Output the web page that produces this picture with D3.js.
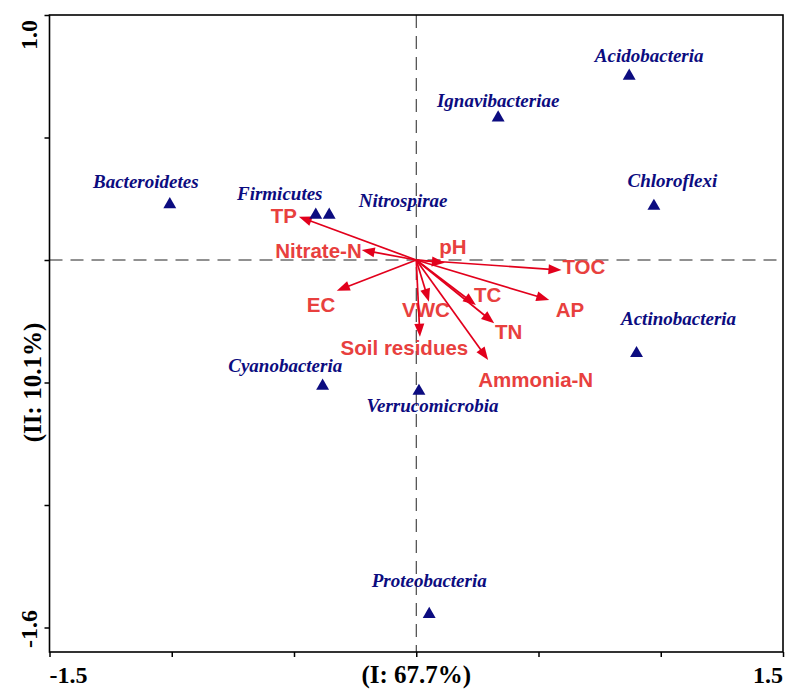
<!DOCTYPE html>
<html>
<head>
<meta charset="utf-8">
<script src="https://cdn.jsdelivr.net/npm/d3@7"></script>
<style>
  html, body { margin: 0; padding: 0; background: #fff; }
  svg { display: block; }
</style>
</head>
<body>
<svg id="chart" width="786" height="689"></svg>
<script>
// Axis ranges and tick values
const xDomain = [-1.5, 1.5];
const yDomain = [-1.6, 1.0];
const xTicks = [-1.5, -1.0, -0.5, 0, 0.5, 1.0, 1.5];
const yTicks = [-1.5, -1.0, -0.5, 0, 0.5, 1.0];
const xRangeLabels = ["-1.5", "1.5"];
const yRangeLabels = ["-1.6", "1.0"];
const xTitle = "(I: 67.7%)";
const yTitle = "(II: 10.1%)";

// Phyla (species scores)
const phyla = ["Acidobacteria", "Ignavibacteriae", "Chloroflexi", "Bacteroidetes", "Firmicutes",
  "Nitrospirae", "Actinobacteria", "Cyanobacteria", "Verrucomicrobia", "Proteobacteria"];
const phylaX = [0.871, 0.335, 0.972, -1.008, -0.411, -0.356, 0.901, -0.383, 0.011, 0.053];
const phylaY = [0.755, 0.585, 0.224, 0.231, 0.188, 0.188, -0.377, -0.510, -0.531, -1.442];

// Environmental variables (biplot arrows)
const envVars = ["TP", "Nitrate-N", "EC", "VWC", "Soil residues", "pH", "TOC", "TC", "AP", "TN", "Ammonia-N"];
const envX = [-0.480, -0.223, -0.325, 0.052, 0.015, 0.117, 0.594, 0.244, 0.544, 0.319, 0.294];
const envY = [0.177, 0.041, -0.125, -0.170, -0.313, -0.011, -0.041, -0.184, -0.163, -0.258, -0.408];

// Label placement (pixel offsets from the mark, text anchor)
const phylaLabelPlace = {
  "Acidobacteria": [20, -13, "middle"],
  "Ignavibacteriae": [0, -10, "middle"],
  "Chloroflexi": [18.5, -18.3, "middle"],
  "Bacteroidetes": [-24, -15, "middle"],
  "Firmicutes": [-36, -14, "middle"],
  "Nitrospirae": [74, -7, "middle"],
  "Actinobacteria": [42, -27, "middle"],
  "Cyanobacteria": [-37.4, -12.7, "middle"],
  "Verrucomicrobia": [13.5, 21.7, "middle"],
  "Proteobacteria": [0, -26.6, "middle"]
};
const envLabelPlace = {
  "TP": [-2, 6.6, "end"],
  "Nitrate-N": [0, 8.3, "end"],
  "EC": [-15.7, 21, "middle"],
  "VWC": [-3, 15, "middle"],
  "Soil residues": [-15.5, 18, "middle"],
  "pH": [8, -8.4, "middle"],
  "TOC": [1, 4.3, "start"],
  "TC": [-2, -3.3, "start"],
  "AP": [6.4, 17.3, "start"],
  "TN": [0.7, 16, "start"],
  "Ammonia-N": [-10, 26.7, "start"]
};

const navy = "#0c0c80";
const arrowRed = "#e2001c";
const labelRed = "#e8403e";
const serif = "'Liberation Serif', 'Times New Roman', serif";
const sans = "'Liberation Sans', Arial, sans-serif";

const svg = d3.select("#chart");
const plotLeft = 49.5, plotRight = 783, plotTop = 15, plotBottom = 652;

const x = d3.scaleLinear().domain(xDomain).range([plotLeft, plotRight]);
const y = d3.scaleLinear().domain(yDomain).range([plotBottom, plotTop]);

// Zero reference lines
svg.append("line")
  .attr("x1", x(0)).attr("x2", x(0)).attr("y1", plotTop).attr("y2", plotBottom)
  .attr("stroke", "#222").attr("stroke-width", 1).attr("stroke-dasharray", "13,8");
svg.append("line")
  .attr("x1", plotLeft).attr("x2", plotRight).attr("y1", y(0)).attr("y2", y(0))
  .attr("stroke", "#222").attr("stroke-width", 1).attr("stroke-dasharray", "13,8");

// Frame
svg.append("rect")
  .attr("x", plotLeft).attr("y", plotTop)
  .attr("width", plotRight - plotLeft).attr("height", plotBottom - plotTop)
  .attr("fill", "none").attr("stroke", "#000").attr("stroke-width", 1.6);

// Ticks
const xAxis = svg.append("g").attr("transform", `translate(0,${plotBottom})`)
  .call(d3.axisBottom(x).tickValues(xTicks).tickSize(5).tickFormat(""));
const yAxis = svg.append("g").attr("transform", `translate(${plotLeft},0)`)
  .call(d3.axisLeft(y).tickValues(yTicks).tickSize(5).tickFormat(""));
[xAxis, yAxis].forEach(g => {
  g.select(".domain").remove();
  g.selectAll(".tick line").attr("stroke", "#000").attr("stroke-width", 1.5);
});

// Axis range labels
svg.append("text").attr("x", plotLeft).attr("y", 683).attr("text-anchor", "start")
  .attr("font-family", serif).attr("font-weight", "bold").attr("font-size", 24)
  .text(xRangeLabels[0]);
svg.append("text").attr("x", plotRight).attr("y", 683).attr("text-anchor", "end")
  .attr("font-family", serif).attr("font-weight", "bold").attr("font-size", 24)
  .text(xRangeLabels[1]);
svg.append("text").attr("transform", `translate(37,${plotBottom - 4}) rotate(-90)`)
  .attr("text-anchor", "start")
  .attr("font-family", serif).attr("font-weight", "bold").attr("font-size", 24)
  .text(yRangeLabels[0]);
svg.append("text").attr("transform", `translate(37,${plotTop + 5}) rotate(-90)`)
  .attr("text-anchor", "end")
  .attr("font-family", serif).attr("font-weight", "bold").attr("font-size", 24)
  .text(yRangeLabels[1]);

// Axis titles
svg.append("text").attr("x", x(0)).attr("y", 683).attr("text-anchor", "middle")
  .attr("font-family", serif).attr("font-weight", "bold").attr("font-size", 25)
  .text(xTitle);
svg.append("text").attr("transform", `translate(41,${y(-0.5)}) rotate(-90)`)
  .attr("text-anchor", "middle")
  .attr("font-family", serif).attr("font-weight", "bold").attr("font-size", 25)
  .text(yTitle);

// Environmental arrows
const envData = envVars.map((name, i) => ({ name, vx: envX[i], vy: envY[i] }));
const ox = x(0), oy = y(0);
const headLen = 13, headHalf = 5;
const arrows = svg.append("g");
envData.forEach(d => {
  const tx = x(d.vx), ty = y(d.vy);
  const ang = Math.atan2(ty - oy, tx - ox);
  const cos = Math.cos(ang), sin = Math.sin(ang);
  const bx = tx - headLen * cos, by = ty - headLen * sin;
  arrows.append("line")
    .attr("x1", ox).attr("y1", oy).attr("x2", bx + 2 * cos).attr("y2", by + 2 * sin)
    .attr("stroke", arrowRed).attr("stroke-width", 1.7);
  arrows.append("path")
    .attr("d", `M${tx},${ty}L${bx - headHalf * sin},${by + headHalf * cos}L${bx + headHalf * sin},${by - headHalf * cos}Z`)
    .attr("fill", arrowRed);
  const p = envLabelPlace[d.name];
  arrows.append("text")
    .attr("x", tx + p[0]).attr("y", ty + p[1]).attr("text-anchor", p[2])
    .attr("font-family", sans).attr("font-weight", "bold").attr("font-size", 20.5)
    .attr("fill", labelRed)
    .text(d.name);
});

// Phyla points
const phylaData = phyla.map((name, i) => ({ name, px: phylaX[i], py: phylaY[i] }));
const tri = d3.symbol().type(d3.symbolTriangle).size(72);
const pts = svg.append("g");
pts.selectAll("path").data(phylaData).join("path")
  .attr("transform", d => `translate(${x(d.px)},${y(d.py) + 1})`)
  .attr("d", tri)
  .attr("fill", navy);
pts.selectAll("text").data(phylaData).join("text")
  .attr("x", d => x(d.px) + phylaLabelPlace[d.name][0])
  .attr("y", d => y(d.py) + phylaLabelPlace[d.name][1])
  .attr("text-anchor", d => phylaLabelPlace[d.name][2])
  .attr("font-family", serif).attr("font-weight", "bold").attr("font-style", "italic")
  .attr("font-size", 19)
  .attr("fill", navy)
  .text(d => d.name);
</script>
</body>
</html>
